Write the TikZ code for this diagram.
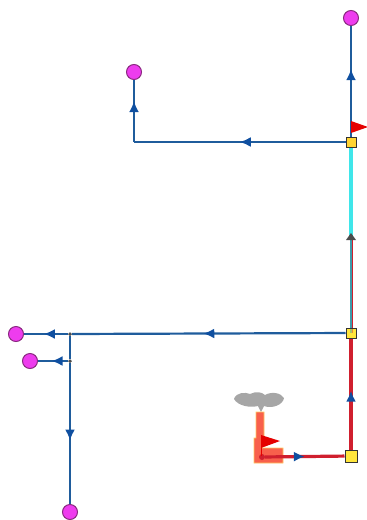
\documentclass[tikz,border=0pt]{standalone}
\usepackage{xcolor}
\usetikzlibrary{positioning,calc,arrows.meta,decorations.markings}
\definecolor{pipeblue}{HTML}{1F5C9C}
\definecolor{tipblue}{HTML}{0F4FA0}
\definecolor{piperedc}{HTML}{D01F2E}
\definecolor{pipecyan}{HTML}{3FE6EA}
\definecolor{pipeteal}{HTML}{3C9CAC}
\definecolor{endpink}{HTML}{EE3CEE}
\definecolor{endrim}{HTML}{8A2A80}
\definecolor{boxyellow}{HTML}{FFE63C}
\definecolor{plantorange}{HTML}{F8604C}
\definecolor{plantrim}{HTML}{FFC860}
\tikzset{
    endpoint/.style={circle,draw=endrim,fill=endpink,line width=1pt,minimum size=15pt,inner sep=0pt},
    joint/.style={rectangle,draw=black!80,fill=boxyellow,line width=1pt,minimum size=10pt,inner sep=0pt},
    branch/.style={circle,fill=black!70,minimum size=3.5pt,inner sep=0pt},
    pipe/.style={draw=pipeblue,line width=2.2pt},
    hotpipe/.style={draw=piperedc,line width=3.2pt},
    tipat/.style={postaction={decorate,decoration={markings,mark=at position #1 with {\arrow[tipblue]{Latex[length=11pt,width=10pt]}}}}},
    flagshape/.style={fill=red!90!black,draw=none}
}
\begin{document}
\begin{tikzpicture}[x=1pt,y=-1pt]
    \useasboundingbox (0,0) rectangle (367,520);

    % nodes along the main run
    \node[endpoint] (topend) at (351,18) {};
    \node[endpoint] (leftend) at (134,72) {};
    \node[endpoint] (farend) at (16,334) {};
    \node[endpoint] (nearend) at (30,361) {};
    \node[endpoint] (lowend) at (70,512) {};
    \node[joint] (jointtop) at (351,142) {};
    \node[joint] (jointmid) at (351,333) {};
    \node[joint,minimum size=12pt] (jointlow) at (351,456) {};
    \node[branch] (branchup) at (70,334) {};
    \node[branch] (branchdown) at (70,361) {};
    \coordinate (corner) at (134,142);
    \coordinate (splitpt) at (351,238);

    % plant symbol
    \fill[gray!70] (234,399) .. controls (236,392) and (246,392) .. (250,394) .. controls (256,391) and (262,392) .. (265,395)
        .. controls (272,391) and (281,393) .. (284,398) .. controls (283,405) and (272,409) .. (264,406) -- (261,412) -- (258,406)
        .. controls (250,408) and (238,406) .. (234,399) -- cycle;
    \fill[plantorange,draw=plantrim,line width=0.8pt] (256,412) -- (264,412) -- (264,438) -- (262,448) -- (283,448) -- (283,463) -- (254,463) -- (254,438) -- (256,438) -- cycle;
    \node[circle,fill=piperedc,minimum size=6pt,inner sep=0pt] (source) at (262,457) {};

    % pipes
    \draw[hotpipe,tipat=0.5] (source) -- (jointlow);
    \draw[hotpipe,tipat=0.53] (jointlow) -- (jointmid);
    \draw[pipe,tipat=0.61] (jointtop) -- (topend);
    \draw[pipe,tipat=0.5] (jointtop) -- (corner);
    \draw[pipe,tipat=0.66] (corner) -- (leftend);
    \draw[pipe,tipat=0.52] (jointmid) -- (branchup);
    \draw[pipe,tipat=0.55] (branchup) -- (farend);
    \draw[pipe] (branchup) -- (branchdown);
    \draw[pipe,tipat=0.55] (branchdown) -- (nearend);
    \draw[pipe,tipat=0.55] (branchdown) -- (lowend);
    \draw[draw=piperedc,line width=1pt] ([xshift=1.6pt]jointmid.center) -- ([xshift=1.6pt]splitpt);
    \draw[draw=pipeteal,line width=2.2pt] ([xshift=-0.4pt]jointmid.center) -- ([xshift=-0.4pt]splitpt);
    \draw[draw=pipecyan,line width=3.5pt] (splitpt) -- (jointtop);
    \fill[gray!60!black] (346,240) -- (351,233) -- (356,240) -- cycle;

    % flags
    \fill[flagshape] (351,121) -- (368,127) -- (351,133) -- cycle;
    \draw[red!90!black,line width=1pt] (261,456) -- (261,436);
    \fill[flagshape] (261,435) -- (280,441) -- (261,448) -- cycle;

    % redraw boxes over the pipes
    \node[joint,fill=boxyellow!70!orange,fill opacity=0.55] at (jointtop) {};
    \node[joint,fill=boxyellow,fill opacity=0.55] at (jointmid) {};
    \node[joint,minimum size=12pt,fill=boxyellow,fill opacity=0.7] at (jointlow) {};
    \node[branch] at (branchup) {};
    \node[branch] at (branchdown) {};
\end{tikzpicture}
\end{document}
